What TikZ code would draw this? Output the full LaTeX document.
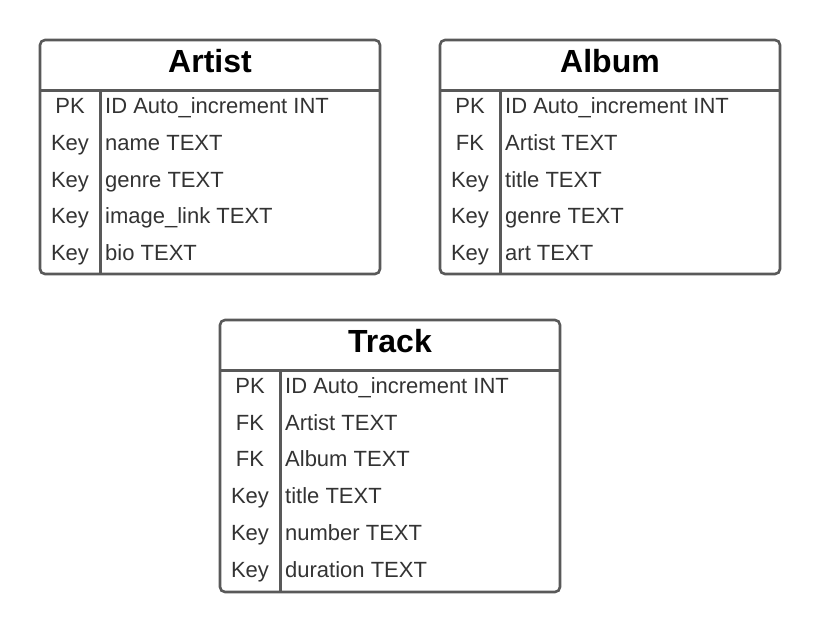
\documentclass[tikz,border=0pt]{standalone}
\usepackage{fontspec}
\setmainfont{Liberation Sans}
\definecolor{framegray}{HTML}{595959}
\definecolor{rowgray}{HTML}{333333}

\begin{document}
\begin{tikzpicture}[x=1pt, y=-1pt,
  tablebox/.style={draw=framegray, line width=2.6pt, rounded corners=5pt},
  rule/.style={draw=framegray, line width=2.6pt},
  title/.style={anchor=base, inner sep=0pt, font=\fontsize{32}{36}\selectfont\bfseries, text=black},
  keytext/.style={anchor=base, inner sep=0pt, font=\fontsize{22}{26}\selectfont, text=rowgray},
  fieldtext/.style={anchor=base west, inner sep=0pt, font=\fontsize{22}{26}\selectfont, text=rowgray}]
  \useasboundingbox (0,0) rectangle (820,632);

  % Artist table
  \draw[tablebox] (40,40) rectangle (380,274);
  \draw[rule] (40,90.5) -- (380,90.5);
  \draw[rule] (100.5,90.5) -- (100.5,274);
  \node (artist) at (210,72) [title] {Artist};
  \foreach \k/\f [count=\i] in {PK/ID Auto\_increment INT, Key/name TEXT, Key/genre TEXT, Key/image\_link TEXT, Key/bio TEXT}
  {
    \node (artistkey\i) at (70,{113.5+36.75*(\i-1)}) [keytext] {\k};
    \node (artistfield\i) at (105,{113.5+36.75*(\i-1)}) [fieldtext] {\f};
  }

  % Album table
  \draw[tablebox] (440,40) rectangle (780,274);
  \draw[rule] (440,90.5) -- (780,90.5);
  \draw[rule] (500.5,90.5) -- (500.5,274);
  \node (album) at (610,72) [title] {Album};
  \foreach \k/\f [count=\i] in {PK/ID Auto\_increment INT, FK/Artist TEXT, Key/title TEXT, Key/genre TEXT, Key/art TEXT}
  {
    \node (albumkey\i) at (470,{113.5+36.75*(\i-1)}) [keytext] {\k};
    \node (albumfield\i) at (505,{113.5+36.75*(\i-1)}) [fieldtext] {\f};
  }

  % Track table
  \draw[tablebox] (220,320) rectangle (560,592);
  \draw[rule] (220,370.5) -- (560,370.5);
  \draw[rule] (280.5,370.5) -- (280.5,592);
  \node (track) at (390,352) [title] {Track};
  \foreach \k/\f [count=\i] in {PK/ID Auto\_increment INT, FK/Artist TEXT, FK/Album TEXT, Key/title TEXT, Key/number TEXT, Key/duration TEXT}
  {
    \node (trackkey\i) at (250,{393.5+36.7*(\i-1)}) [keytext] {\k};
    \node (trackfield\i) at (285,{393.5+36.7*(\i-1)}) [fieldtext] {\f};
  }
\end{tikzpicture}
\end{document}
